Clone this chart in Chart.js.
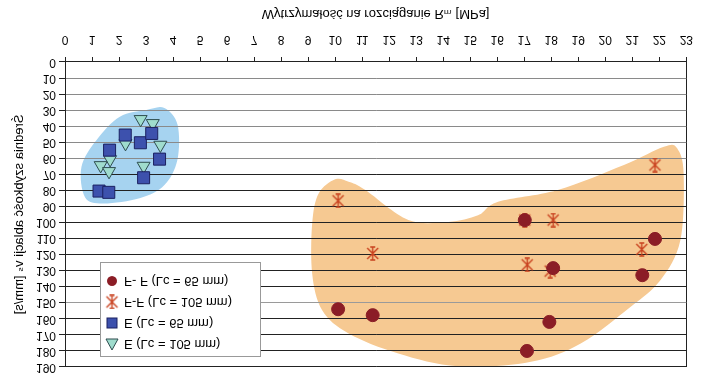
<!DOCTYPE html>
<html>
<head>
<meta charset="utf-8">
<script src="https://cdn.jsdelivr.net/npm/chart.js@4/dist/chart.umd.min.js"></script>
<style>
    body { margin: 0; background: #fff; }
    /* the reference picture is upside down, so the whole chart gets flipped */
    #wrap { width: 703px; height: 384px; transform: scaleY(-1); }
</style>
</head>
<body>
<div id="wrap"><canvas id="myChart" width="703" height="384"></canvas></div>
<script>
// Values
// =======================================================
var xTicksMax = 23;
var yTicksMax = 190;

var ffShortX = [17.02, 18.07, 21.84, 21.37, 10.11, 11.39, 17.93, 17.1];
var ffShortY = [98.5, 128.4, 110.2, 132.8, 154, 157.7, 161.9, 180];

var ffLongX = [10.11, 21.84, 17.02, 18.07, 11.39, 17.11, 17.96, 21.35];
var ffLongY = [86.5, 64.2, 98.5, 98.5, 119.3, 126.4, 130.3, 116.8];

var eShortX = [2.23, 2.79, 3.21, 1.65, 3.5, 2.91, 1.26, 1.62];
var eShortY = [45.5, 50.3, 44.5, 54.9, 60.5, 72.1, 80.4, 81.2];

var eLongX = [2.8, 3.25, 2.24, 3.53, 1.67, 1.32, 1.63, 2.91];
var eLongY = [35.7, 38.2, 50.7, 51.7, 60.7, 64.4, 68.1, 64.8];

var seriesLabels = ["F- F (Lc = 65 mm)", "F-F (Lc = 105 mm)", "E (Lc = 65 mm)", "E (Lc = 105 mm)"];

// hand drawn highlight areas behind the points (outline in data units)
var blueArea = [[3.01, 29.9], [3.68, 28.7], [4.17, 39.3], [4.16, 61.1], [3.68, 76.7], [2.76, 84.8],
    [1.41, 88.1], [0.74, 84.2], [0.61, 65.3], [1.17, 48.6], [2.03, 34.1]];
var orangeArea = [[10.0, 73.1], [9.39, 81.9], [9.15, 100.6], [9.15, 131.7], [9.52, 154.6], [10.5, 169.1],
    [12.34, 181.6], [14.55, 189.5], [17.25, 186.8], [19.09, 175.4], [20.93, 152.6], [22.04, 135.9],
    [22.78, 111], [22.9, 69.4], [22.66, 53.8], [22.17, 52.8], [20.69, 64.2], [18.24, 79.8],
    [16.03, 87.1], [15.29, 95.4], [14.19, 99.6], [12.71, 98.5], [11.12, 79.8], [10.5, 74.6]];

function toPoints(xs, ys) {
    var pts = [];
    for (var i = 0; i < xs.length; i++) {
        pts.push({ x: xs[i], y: ys[i] });
    }
    return pts;
}

// Excel style star marker: an X with a vertical bar
function makeStar(color) {
    var c = document.createElement("canvas");
    c.width = 15;
    c.height = 15;
    var g = c.getContext("2d");
    g.strokeStyle = color;
    g.lineWidth = 1.4;
    g.beginPath();
    g.moveTo(2, 2); g.lineTo(13, 13);
    g.moveTo(13, 2); g.lineTo(2, 13);
    g.moveTo(7.5, 1); g.lineTo(7.5, 14);
    g.moveTo(5, 1); g.lineTo(10, 1);
    g.moveTo(5, 14); g.lineTo(10, 14);
    g.stroke();
    return c;
}
var starImg = makeStar("#c8401e");

// Smooth closed outline through the given points
// =======================================================
function blobPath(ctx, pts) {
    var n = pts.length;
    ctx.beginPath();
    ctx.moveTo(pts[0][0], pts[0][1]);
    for (var i = 0; i < n; i++) {
        var p0 = pts[(i - 1 + n) % n], p1 = pts[i], p2 = pts[(i + 1) % n], p3 = pts[(i + 2) % n];
        ctx.bezierCurveTo(
            p1[0] + (p2[0] - p0[0]) / 6, p1[1] + (p2[1] - p0[1]) / 6,
            p2[0] - (p3[0] - p1[0]) / 6, p2[1] - (p3[1] - p1[1]) / 6,
            p2[0], p2[1]);
    }
    ctx.closePath();
}

var areasPlugin = {
    id: "areas",
    beforeDraw: function (chart) {
        var ctx = chart.ctx;
        var xs = chart.scales.x, ys = chart.scales.y, a = chart.chartArea;
        ctx.save();
        ctx.fillStyle = "#fff";
        ctx.fillRect(0, 0, chart.width, chart.height);
        ctx.beginPath();
        ctx.rect(a.left, a.top, a.right - a.left, a.bottom - a.top);
        ctx.clip();
        [[blueArea, "#a6d3f0"], [orangeArea, "#f6c992"]].forEach(function (item) {
            var px = item[0].map(function (p) {
                return [xs.getPixelForValue(p[0]), ys.getPixelForValue(p[1])];
            });
            blobPath(ctx, px);
            ctx.fillStyle = item[1];
            ctx.fill();
        });
        ctx.restore();
    }
};

// Boxed legend inside the plot area
// =======================================================
function drawMarker(ctx, ds, x, y) {
    ctx.save();
    ctx.fillStyle = ds.backgroundColor;
    ctx.strokeStyle = ds.borderColor;
    ctx.lineWidth = ds.borderWidth;
    if (ds.pointStyle === "circle") {
        ctx.beginPath();
        ctx.arc(x, y, 5, 0, Math.PI * 2);
        ctx.fill();
    } else if (ds.pointStyle === "rect") {
        ctx.fillRect(x - 5, y - 5, 10, 10);
        ctx.strokeRect(x - 5, y - 5, 10, 10);
    } else if (ds.pointStyle === "triangle") {
        ctx.beginPath();
        ctx.moveTo(x, y - 6);
        ctx.lineTo(x + 6, y + 5);
        ctx.lineTo(x - 6, y + 5);
        ctx.closePath();
        ctx.fill();
        ctx.stroke();
    } else {
        ctx.drawImage(ds.pointStyle, x - 7.5, y - 7.5);
    }
    ctx.restore();
}

var boxLegendPlugin = {
    id: "boxLegend",
    afterDraw: function (chart) {
        var ctx = chart.ctx;
        var a = chart.chartArea;
        var left = a.left + 35, top = a.top + 10;
        ctx.save();
        ctx.fillStyle = "#fff";
        ctx.strokeStyle = "#999";
        ctx.lineWidth = 1;
        ctx.fillRect(left, top, 160, 94);
        ctx.strokeRect(left + 0.5, top + 0.5, 160, 94);
        ctx.font = "13px 'Liberation Sans', Arial, sans-serif";
        ctx.fillStyle = "#000";
        ctx.textBaseline = "middle";
        var rows = [3, 2, 1, 0];
        for (var i = 0; i < rows.length; i++) {
            var ds = chart.data.datasets[rows[i]];
            var y = top + 13 + i * 21;
            drawMarker(ctx, ds, left + 12, y);
            ctx.fillStyle = "#000";
            ctx.fillText(ds.label, left + 24, y);
        }
        ctx.restore();
    }
};

var ctx = document.getElementById("myChart");

var myChart = new Chart(ctx, {
    type: "scatter",
    data: {
        datasets: [{
            label: seriesLabels[0],
            data: toPoints(ffShortX, ffShortY),
            pointStyle: "circle",
            pointRadius: 6.5,
            backgroundColor: "#8b1d26",
            borderColor: "#8b1d26",
            borderWidth: 1
        }, {
            label: seriesLabels[1],
            data: toPoints(ffLongX, ffLongY),
            pointStyle: starImg,
            pointRadius: 7,
            backgroundColor: "#c8401e",
            borderColor: "#c8401e",
            borderWidth: 1
        }, {
            label: seriesLabels[2],
            data: toPoints(eShortX, eShortY),
            pointStyle: "rect",
            pointRadius: 8.5,
            backgroundColor: "#3d51ad",
            borderColor: "#1b2060",
            borderWidth: 1
        }, {
            label: seriesLabels[3],
            data: toPoints(eLongX, eLongY),
            pointStyle: "triangle",
            pointRadius: 7.5,
            backgroundColor: "#9fdccd",
            borderColor: "#2e4d4f",
            borderWidth: 1
        }]
    },
    options: {
        responsive: false,
        animation: false,
        events: [],
        layout: {
            padding: { top: 17, right: 14, left: 0, bottom: 0 }
        },
        plugins: {
            legend: { display: false },
            tooltip: { enabled: false }
        },
        scales: {
            x: {
                type: "linear",
                min: 0,
                max: xTicksMax,
                afterFit: function (axis) { axis.height = 62; },
                ticks: {
                    stepSize: 1,
                    autoSkip: false,
                    color: "#000",
                    padding: 10,
                    font: { family: "'Liberation Sans', Arial, sans-serif", size: 12 }
                },
                grid: {
                    color: function (c) { return c.tick && c.tick.value === xTicksMax ? "#222" : "rgba(0,0,0,0)"; },
                    tickColor: "#222",
                    tickLength: 5
                },
                border: { color: "#222" },
                title: {
                    display: true,
                    text: "Wytrzymałość na rozciąganie Rₘ [MPa]",
                    color: "#000",
                    padding: { top: 4, bottom: 6 },
                    font: { family: "'Liberation Sans', 'DejaVu Sans', sans-serif", size: 13 }
                }
            },
            y: {
                min: 0,
                max: yTicksMax,
                afterFit: function (axis) { axis.width = 65; },
                ticks: {
                    stepSize: 10,
                    autoSkip: false,
                    color: "#000",
                    padding: 3,
                    font: { family: "'Liberation Sans', Arial, sans-serif", size: 12 }
                },
                grid: {
                    color: function (c) {
                        var v = c.tick ? c.tick.value : 0;
                        if (v === 150) return "#9a9a9a";
                        if (v > 0 && v <= 60) return "#8a8a8a";
                        return "#222";
                    },
                    tickColor: "#222",
                    tickLength: 6
                },
                border: { color: "#222" },
                title: {
                    display: true,
                    text: "Średnia szybkość ablacji vₛ [mm/s]",
                    color: "#000",
                    padding: { top: 12, bottom: 4 },
                    font: { family: "'Liberation Sans', 'DejaVu Sans', sans-serif", size: 13 }
                }
            }
        }
    },
    plugins: [areasPlugin, boxLegendPlugin]
});
</script>
</body>
</html>
